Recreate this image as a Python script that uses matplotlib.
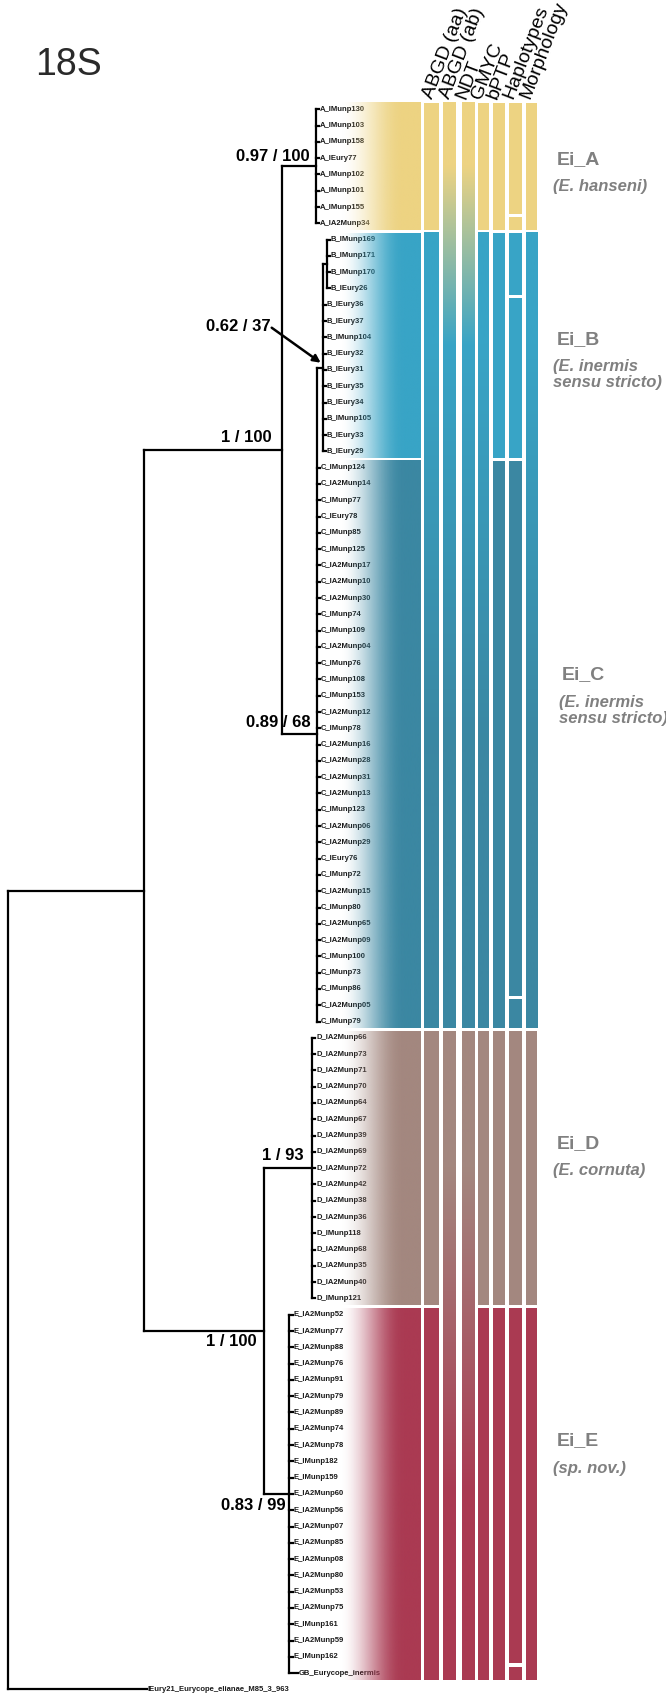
import numpy as np
import matplotlib.pyplot as plt
from matplotlib.colors import to_rgb

plt.rcParams["font.family"] = ["Liberation Sans", "DejaVu Sans"]

# ── Taxa (top to bottom) ──────────────────────────────────────────────────────
A_TAXA = ["A_IMunp130", "A_IMunp103", "A_IMunp158", "A_IEury77", "A_IMunp102",
          "A_IMunp101", "A_IMunp155", "A_IA2Munp34"]
B_TAXA = ["B_IMunp169", "B_IMunp171", "B_IMunp170", "B_IEury26", "B_IEury36",
          "B_IEury37", "B_IMunp104", "B_IEury32", "B_IEury31", "B_IEury35",
          "B_IEury34", "B_IMunp105", "B_IEury33", "B_IEury29"]
C_TAXA = ["C_IMunp124", "C_IA2Munp14", "C_IMunp77", "C_IEury78", "C_IMunp85",
          "C_IMunp125", "C_IA2Munp17", "C_IA2Munp10", "C_IA2Munp30", "C_IMunp74",
          "C_IMunp109", "C_IA2Munp04", "C_IMunp76", "C_IMunp108", "C_IMunp153",
          "C_IA2Munp12", "C_IMunp78", "C_IA2Munp16", "C_IA2Munp28", "C_IA2Munp31",
          "C_IA2Munp13", "C_IMunp123", "C_IA2Munp06", "C_IA2Munp29", "C_IEury76",
          "C_IMunp72", "C_IA2Munp15", "C_IMunp80", "C_IA2Munp65", "C_IA2Munp09",
          "C_IMunp100", "C_IMunp73", "C_IMunp86", "C_IA2Munp05", "C_IMunp79"]
D_TAXA = ["D_IA2Munp66", "D_IA2Munp73", "D_IA2Munp71", "D_IA2Munp70", "D_IA2Munp64",
          "D_IA2Munp67", "D_IA2Munp39", "D_IA2Munp69", "D_IA2Munp72", "D_IA2Munp42",
          "D_IA2Munp38", "D_IA2Munp36", "D_IMunp118", "D_IA2Munp68", "D_IA2Munp35",
          "D_IA2Munp40", "D_IMunp121"]
E_TAXA = ["E_IA2Munp52", "E_IA2Munp77", "E_IA2Munp88", "E_IA2Munp76", "E_IA2Munp91",
          "E_IA2Munp79", "E_IA2Munp89", "E_IA2Munp74", "E_IA2Munp78", "E_IMunp182",
          "E_IMunp159", "E_IA2Munp60", "E_IA2Munp56", "E_IA2Munp07", "E_IA2Munp85",
          "E_IA2Munp08", "E_IA2Munp80", "E_IA2Munp53", "E_IA2Munp75", "E_IMunp161",
          "E_IA2Munp59", "E_IMunp162", "GB_Eurycope_inermis"]
OUTGROUP = "IEury21_Eurycope_elianae_M85_3_963"

CLADES = ["A", "B", "C", "D", "E"]
CLADE_TAXA = [A_TAXA, B_TAXA, C_TAXA, D_TAXA, E_TAXA]
CLADE_COLORS = ["#EDD382", "#38A4C6", "#3B87A2", "#A3877F", "#AA3A52"]
CLADE_NAMES = ["Ei_A", "Ei_B", "Ei_C", "Ei_D", "Ei_E"]
CLADE_NOTES = [["(E. hanseni)"], ["(E. inermis", "sensu stricto)"],
               ["(E. inermis", "sensu stricto)"], ["(E. cornuta)"], ["(sp. nov.)"]]

# ── Species delimitation results ─────────────────────────────────────────────
METHODS = ["ABGD (aa)", "ABGD (ab)", "NDT", "GMYC", "bPTP", "Haplotypes", "Morphology"]
PARTITIONS = [
    [["A"], ["B", "C"], ["D"], ["E"]],
    [["A", "B", "C"], ["D", "E"]],
    [["A", "B", "C"], ["D", "E"]],
    [["A"], ["B", "C"], ["D"], ["E"]],
    [["A"], ["B"], ["C"], ["D"], ["E"]],
    [["A"], ["B"], ["C"], ["D"], ["E"]],
    [["A"], ["B", "C"], ["D"], ["E"]],
]
HAPLO_SPLITS = ["A_IA2Munp34", "B_IEury36", "C_IA2Munp05", "GB_Eurycope_inermis"]

# ── Tree: node depths (x) and support values ─────────────────────────────────
NODE_X = {"root": 8, "ingroup": 143.6, "ABC": 281.7, "A": 316, "BC": 316.7,
          "B": 322.7, "Bsub": 327.3, "DE": 264, "D": 312.3, "E": 289.3}
TIP_X = {"A": 318.5, "Bsub": 329.5, "B": 325.5, "C": 319.5, "D": 315,
         "E": 292.5, "GB": 298, "out": 146.5}
SUPPORT = {"A": "0.97 / 100", "ABC": "1 / 100", "B": "0.62 / 37", "BC": "0.89 / 68",
           "D": "1 / 93", "DE": "1 / 100", "E": "0.83 / 99"}

# ── Layout ───────────────────────────────────────────────────────────────────
W, H = 666, 1693
ROW0, STEP, HALF = 109.3, 16.29, 6.6
MAIN_X = (330, 421)
COL_X = [(424.3, 439), (443.3, 456.3), (461.7, 474.3), (478.3, 489),
         (492.7, 505), (509.3, 521.7), (525.7, 537.3)]
HEAD_X = [432, 449, 465, 481, 497, 513, 530]
LINE_KW = dict(color="black", lw=1.6, solid_capstyle="projecting", zorder=2)
NAME_GRAY = "#808080"

all_taxa = sum(CLADE_TAXA, []) + [OUTGROUP]
row_of = {t: i for i, t in enumerate(all_taxa)}


def ty(name):
    return ROW0 + STEP * row_of[name]


fig = plt.figure(figsize=(W / 100, H / 100), dpi=100)
ax = fig.add_axes([0, 0, 1, 1])
ax.axis("off")


# ── Tree ─────────────────────────────────────────────────────────────────────
def leaf(name, tip):
    return {"leaf": name, "x": tip}


def node(key, children):
    return {"key": key, "x": NODE_X[key], "children": children}


tree = node("root", [
    node("ingroup", [
        node("ABC", [
            node("A", [leaf(n, TIP_X["A"]) for n in A_TAXA]),
            node("BC", [node("B", [node("Bsub", [leaf(n, TIP_X["Bsub"]) for n in B_TAXA[:4]])]
                              + [leaf(n, TIP_X["B"]) for n in B_TAXA[4:]])]
                 + [leaf(n, TIP_X["C"]) for n in C_TAXA]),
        ]),
        node("DE", [
            node("D", [leaf(n, TIP_X["D"]) for n in D_TAXA]),
            node("E", [leaf(n, TIP_X["E"]) for n in E_TAXA[:-1]] + [leaf(E_TAXA[-1], TIP_X["GB"])]),
        ]),
    ]),
    leaf(OUTGROUP, TIP_X["out"]),
])

node_y = {}


def draw(nd):
    if "leaf" in nd:
        y = ty(nd["leaf"])
        ax.text(nd["x"] + 1.2, y, nd["leaf"], fontsize=5.5, fontweight="bold",
                color="#1a1a1a", ha="left", va="center", zorder=3)
        return y
    ys = [draw(c) for c in nd["children"]]
    for c, y in zip(nd["children"], ys):
        ax.plot([nd["x"], c["x"]], [y, y], **LINE_KW)
    ax.plot([nd["x"], nd["x"]], [min(ys), max(ys)], **LINE_KW)
    y = float(np.mean(ys))
    node_y[nd["key"]] = y
    return y


draw(tree)

# support labels (offsets relative to node)
LABEL_OFF = {"A": (-6, -10), "ABC": (-10, -13), "BC": (-6, -12), "D": (-9, -13),
             "DE": (-7, 10), "E": (-4, 12)}
for k, (dx, dy) in LABEL_OFF.items():
    ax.text(NODE_X[k] + dx, node_y[k] + dy, SUPPORT[k], fontsize=12, fontweight="bold",
            ha="right", va="center", zorder=3)

# B node: label with arrow
bx, byy = NODE_X["B"], node_y["B"]
ax.text(bx - 52, byy - 41, SUPPORT["B"], fontsize=12, fontweight="bold",
        ha="right", va="center", zorder=3)
ax.annotate("", xy=(bx - 2, byy - 5), xytext=(bx - 51, byy - 40),
            arrowprops=dict(arrowstyle="-|>", lw=1.8, color="black", mutation_scale=11,
                            shrinkA=0, shrinkB=0), zorder=3)


# ── Coloured blocks ──────────────────────────────────────────────────────────
def vgrad(x0, x1, taxa_rows, clades, zorder=4):
    top = ROW0 + STEP * taxa_rows[0] - HALF
    bot = ROW0 + STEP * taxa_rows[-1] + HALF
    if len(clades) == 1:
        ax.add_patch(plt.Rectangle((x0, top), x1 - x0, bot - top,
                                   color=CLADE_COLORS[CLADES.index(clades[0])],
                                   lw=0, zorder=zorder))
        return
    sy, sc = [], []
    for c in clades:
        rows = [row_of[t] for t in CLADE_TAXA[CLADES.index(c)]]
        sy.append(ROW0 + STEP * np.mean(rows))
        sc.append(to_rgb(CLADE_COLORS[CLADES.index(c)]))
    ys = np.linspace(top, bot, int(bot - top) * 2)
    rgb = np.stack([np.interp(ys, sy, [s[k] for s in sc]) for k in range(3)], axis=1)
    ax.imshow(rgb[:, None, :], extent=(x0, x1, bot, top), aspect="auto",
              interpolation="bilinear", zorder=zorder)


# main block: colour fading in over the tip labels
xs = np.linspace(MAIN_X[0], MAIN_X[1], 300)
t = np.clip((xs - 340) / (403 - 340), 0, 1)
alpha = t * t * (3 - 2 * t)
for c, taxa, col in zip(CLADES, CLADE_TAXA, CLADE_COLORS):
    top = ty(taxa[0]) - HALF
    bot = ty(taxa[-1]) + HALF
    rgba = np.zeros((1, len(xs), 4))
    rgba[..., :3] = to_rgb(col)
    rgba[..., 3] = alpha
    ax.imshow(rgba, extent=(MAIN_X[0], MAIN_X[1], bot, top), aspect="auto",
              interpolation="bilinear", zorder=4)

for m, (part, (x0, x1)) in enumerate(zip(PARTITIONS, COL_X)):
    for grp in part:
        taxa = sum([CLADE_TAXA[CLADES.index(c)] for c in grp], [])
        rows = [row_of[t] for t in taxa]
        if METHODS[m] == "Haplotypes":
            cuts = [i for i, t in enumerate(taxa) if t in HAPLO_SPLITS]
            pieces = np.split(np.array(rows), cuts)
            for p in pieces:
                if len(p):
                    vgrad(x0, x1, list(p), grp)
        else:
            vgrad(x0, x1, rows, grp)

# method headers
for name, hx in zip(METHODS, HEAD_X):
    ax.text(hx, 100, name, fontsize=14, rotation=69,
            rotation_mode="anchor", ha="left", va="baseline", zorder=5)

# clade names
NAME_X = [556.7, 556.7, 562, 556.7, 556.7]
NAME_Y = [160, 340, 675, 1144, 1441]
for nm, notes, x, y in zip(CLADE_NAMES, CLADE_NOTES, NAME_X, NAME_Y):
    ax.text(x, y, nm, fontsize=14, fontweight="bold", color=NAME_GRAY,
            ha="left", va="center")
    for k, line in enumerate(notes):
        ax.text(x - 3.4, y + 27 + 16 * k, line, fontsize=12, fontweight="bold",
                fontstyle="italic", color=NAME_GRAY, ha="left", va="center")

ax.text(68.5, 65, "18S", fontsize=27, color="#2a2a2a", ha="center", va="center")

ax.set_xlim(0, W)
ax.set_ylim(H, 0)
fig.savefig("out.png", dpi=100)
